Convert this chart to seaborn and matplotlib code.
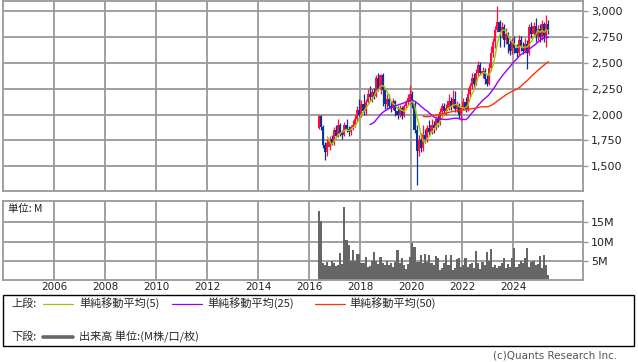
import numpy as np
import pandas as pd
import matplotlib
matplotlib.use("Agg")
import matplotlib.pyplot as plt
import seaborn as sns
from matplotlib.patches import Rectangle
from matplotlib.lines import Line2D

# ---------------- data (monthly, 2016-05 .. 2025-05) ----------------
months = pd.period_range("2016-05", "2025-05", freq="M")

opens = [1870, 1990, 1880, 1700, 1640, 1690, 1760, 1720, 1850, 1790, 1900, 1820, 1800, 1900, 1860, 1830,
         1880, 1900, 1960, 2040, 2000, 2100, 2030, 2120, 2200, 2170, 2220, 2180, 2350, 2250, 2380, 2240,
         2100, 2150, 2080, 2060, 2130, 2030, 2000, 2060, 1990, 2080, 2120, 2120, 2200, 2100, 1850, 1650,
         1750, 1680, 1800, 1760, 1870, 1830, 1900, 1870, 1960, 1920, 2020, 2080, 2030, 2060, 2130, 2080,
         2150, 2050, 2090, 2000, 2060, 2120, 2050, 2200, 2280, 2350, 2300, 2400, 2480, 2400, 2420, 2340,
         2300, 2450, 2600, 2700, 2820, 2900, 2800, 2850, 2720, 2780, 2680, 2620, 2700, 2640, 2600, 2720,
         2650, 2620, 2680, 2600, 2850, 2780, 2860, 2760, 2830, 2750, 2880, 2760, 2880]
highs = [2000, 2000, 1900, 1730, 1760, 1790, 1800, 1880, 1900, 1960, 1920, 1850, 1930, 1960, 1890, 1900,
         1950, 2000, 2080, 2150, 2140, 2200, 2150, 2250, 2280, 2250, 2260, 2380, 2400, 2390, 2400, 2260,
         2200, 2200, 2130, 2160, 2140, 2080, 2090, 2080, 2100, 2140, 2200, 2290, 2230, 2130, 1900, 1800,
         1820, 1900, 1860, 1900, 1950, 1960, 1940, 1990, 2000, 2060, 2110, 2110, 2100, 2200, 2170, 2240,
         2230, 2130, 2110, 2080, 2160, 2170, 2260, 2310, 2400, 2400, 2440, 2520, 2510, 2460, 2450, 2380,
         2500, 2660, 2740, 2860, 3050, 2920, 2900, 2880, 2840, 2800, 2720, 2740, 2760, 2680, 2770, 2760,
         2700, 2740, 2720, 2880, 2900, 2900, 2940, 2870, 2880, 2920, 2900, 2960, 2920]
lows = [1860, 1850, 1680, 1560, 1600, 1660, 1700, 1700, 1770, 1780, 1790, 1760, 1790, 1830, 1790, 1800,
        1850, 1880, 1940, 1960, 1980, 2000, 2000, 2100, 2130, 2120, 2150, 2170, 2230, 2200, 2080, 2050,
        2050, 2060, 2020, 2040, 1990, 1960, 1980, 1960, 1980, 2050, 2090, 2100, 2060, 1820, 1320, 1600,
        1640, 1650, 1720, 1730, 1790, 1810, 1820, 1850, 1880, 1900, 1990, 2000, 2000, 2040, 2040, 2060,
        2020, 2020, 1960, 1940, 2040, 2020, 2030, 2170, 2250, 2260, 2290, 2370, 2380, 2350, 2300, 2280,
        2290, 2430, 2560, 2640, 2800, 2650, 2740, 2650, 2680, 2600, 2580, 2590, 2600, 2560, 2580, 2620,
        2590, 2600, 2440, 2580, 2740, 2760, 2700, 2720, 2700, 2720, 2700, 2650, 2780]
closes = [1990, 1880, 1700, 1640, 1720, 1760, 1720, 1850, 1790, 1900, 1820, 1800, 1900, 1860, 1830, 1880,
          1900, 1960, 2040, 2000, 2100, 2030, 2120, 2200, 2170, 2220, 2180, 2350, 2250, 2380, 2240, 2100,
          2150, 2080, 2060, 2130, 2030, 2000, 2060, 1990, 2080, 2120, 2160, 2200, 2100, 1850, 1650, 1750,
          1680, 1800, 1760, 1870, 1830, 1900, 1870, 1960, 1920, 2020, 2080, 2030, 2060, 2130, 2080, 2150,
          2050, 2090, 2000, 2060, 2120, 2050, 2200, 2280, 2350, 2300, 2400, 2480, 2400, 2420, 2340, 2300,
          2450, 2600, 2700, 2820, 2900, 2800, 2850, 2720, 2780, 2680, 2620, 2700, 2640, 2600, 2720, 2650,
          2620, 2680, 2600, 2850, 2780, 2860, 2760, 2830, 2750, 2880, 2760, 2880, 2810]
volumes = [17.8, 15.2, 4.5, 3.8, 4.6, 3.7, 5.0, 4.4, 3.6, 4.0, 7.0, 4.2, 19.0, 10.5, 9.0, 5.0,
           7.8, 5.0, 6.8, 6.8, 4.3, 4.5, 6.0, 3.5, 3.7, 5.0, 7.2, 5.0, 4.2, 6.0, 4.5, 3.8,
           5.0, 3.8, 4.5, 3.5, 4.8, 7.8, 4.5, 5.6, 3.8, 2.8, 4.2, 6.0, 9.5, 8.5, 4.6, 4.8,
           6.5, 4.5, 6.8, 4.8, 6.5, 4.5, 4.0, 6.2, 5.8, 2.5, 3.0, 4.5, 6.5, 4.0, 6.5, 2.6,
           3.0, 5.5, 5.8, 3.5, 4.0, 5.6, 3.5, 4.2, 4.5, 3.0, 7.5, 4.5, 2.8, 4.8, 4.0, 7.3,
           5.0, 8.1, 3.5, 4.0, 3.0, 3.6, 4.5, 5.6, 3.0, 4.2, 3.3, 5.8, 8.4, 3.5, 4.2, 5.0,
           4.5, 5.8, 8.4, 3.5, 4.8, 5.0, 4.0, 4.2, 6.2, 3.2, 6.5, 4.0, 1.4]

year_ticks = list(range(2006, 2025, 2))
price_ticks = [1500, 1750, 2000, 2250, 2500, 2750, 3000]
vol_ticks = [5, 10, 15]
vol_labels = ["5M", "10M", "15M"]
ma_windows = [5, 25, 50]
ma_colors = ["#99cc00", "#9900ff", "#ff3300"]
ma_names = ["単純移動平均(5)", "単純移動平均(25)", "単純移動平均(50)"]

# ---------------- figure ----------------
sns.set_style("white")
plt.rcParams["font.family"] = ["DejaVu Sans", "Noto Sans CJK JP"]
JP = ["Noto Sans CJK JP", "DejaVu Sans"]

W, H = 638, 362
fig = plt.figure(figsize=(W / 100, H / 100), dpi=100)


def fx(px):
    return px / W


def fy(py):
    return 1 - py / H


ax = fig.add_axes([fx(3.3), fy(190.7), fx(582.7 - 3.3), (190.7 - 1) / H])
axv = fig.add_axes([fx(3.3), fy(280), fx(582.7 - 3.3), (280 - 200.7) / H])

df = pd.DataFrame({
    "x": months.year + (months.month - 1) / 12 + 1 / 24,
    "open": opens, "high": highs, "low": lows, "close": closes, "vol": volumes,
})
for w in ma_windows:
    df[f"ma{w}"] = df["close"].rolling(w).mean()

grid_c = "#999999"
for a in (ax, axv):
    a.set_xlim(2004.0, 2026.72)
    a.set_xticks(year_ticks)
    a.set_axisbelow(True)
    a.grid(True, color=grid_c, lw=1.3)
    for s in a.spines.values():
        s.set_color(grid_c)
        s.set_linewidth(1.3)
    a.yaxis.tick_right()
    a.tick_params(axis="y", direction="out", length=3.6, width=1, color=grid_c,
                  pad=2.5, labelsize=8, labelcolor="#222222")
    a.tick_params(axis="x", length=0)

# candles
up = df["close"] >= df["open"]
cols = np.where(up, "#ff0d3d", "#0a3399")
ax.vlines(df["x"], df["low"], df["high"], colors=cols, lw=0.9, zorder=2)
ax.bar(df["x"], (df["close"] - df["open"]).abs().clip(lower=5),
       bottom=np.minimum(df["open"], df["close"]), width=0.98 / 12,
       color=cols, linewidth=0, zorder=2, antialiased=False)
for w, c in zip(ma_windows, ma_colors):
    sns.lineplot(data=df, x="x", y=f"ma{w}", ax=ax, color=c, lw=1.0, zorder=3)

ax.set_ylim(1262, 3100)
ax.set_yticks(price_ticks)
ax.set_yticklabels([f"{v:,}" for v in price_ticks])
ax.tick_params(axis="x", labelbottom=False)
ax.set_xlabel("")
ax.set_ylabel("")

# volume
axv.bar(df["x"], df["vol"], width=1 / 12, color="#666666", linewidth=0, zorder=2)
axv.set_ylim(0, 20.6)
axv.set_yticks(vol_ticks)
axv.set_yticklabels(vol_labels)
axv.set_xticklabels([str(y) for y in year_ticks])
axv.tick_params(axis="x", labelsize=7.5, pad=1.5, labelcolor="#222222")
axv.text(0.008, 0.9, "単位: M", transform=axv.transAxes, fontsize=7.5,
         family=JP, ha="left", va="center", color="#222222")

# legend box
fig.add_artist(Rectangle((fx(3.3), fy(346)), fx(634 - 3.3), (346 - 295) / H,
                         transform=fig.transFigure, fill=False, ec="black", lw=1.0))
row1, row2 = 303.5, 337
fig.text(fx(11.5), fy(row1), "上段:", family=JP, fontsize=8, va="center", ha="left")
line_x = [(43, 73), (172, 202), (315, 345)]
text_x = [79, 207, 349]
for (x0, x1), tx, c, nm in zip(line_x, text_x, ma_colors, ma_names):
    fig.add_artist(Line2D([fx(x0), fx(x1)], [fy(row1), fy(row1)], color=c, lw=0.9,
                          transform=fig.transFigure))
    fig.text(fx(tx), fy(row1), nm, family=JP, fontsize=8, va="center", ha="left")
fig.text(fx(11.5), fy(row2), "下段:", family=JP, fontsize=8, va="center", ha="left")
fig.add_artist(Line2D([fx(43), fx(73)], [fy(row2), fy(row2)], color="#666666", lw=2.6,
                      transform=fig.transFigure))
fig.text(fx(79), fy(row2), "出来高 単位:(M株/口/枚)", family=JP, fontsize=8,
         va="center", ha="left")

fig.text(fx(617), fy(355.5), "(c)Quants Research Inc.", fontsize=7.5, color="#555555",
         ha="right", va="center")

fig.savefig("out.png", dpi=100)
